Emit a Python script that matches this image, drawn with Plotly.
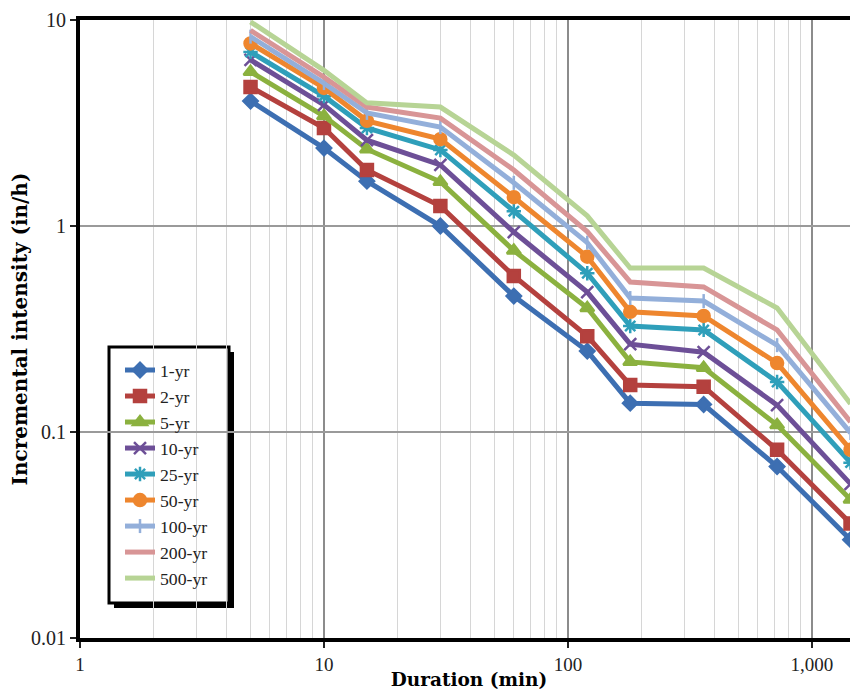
import plotly.graph_objects as go
import math

durations = [5, 10, 15, 30, 60, 120, 180, 360, 720, 1440]
series_names = ["1-yr", "2-yr", "5-yr", "10-yr", "25-yr", "50-yr", "100-yr", "200-yr", "500-yr"]
yr1 = [4.04, 2.39, 1.65, 1.00, 0.457, 0.247, 0.138, 0.136, 0.068, 0.030]
yr2 = [4.73, 2.99, 1.87, 1.25, 0.572, 0.292, 0.169, 0.166, 0.082, 0.036]
yr5 = [5.6, 3.42, 2.36, 1.64, 0.76, 0.40, 0.219, 0.205, 0.108, 0.047]
yr10 = [6.4, 3.87, 2.61, 1.98, 0.935, 0.478, 0.267, 0.244, 0.135, 0.056]
yr25 = [7.0, 4.27, 2.99, 2.34, 1.18, 0.59, 0.327, 0.313, 0.175, 0.071]
yr50 = [7.7, 4.68, 3.24, 2.64, 1.38, 0.71, 0.383, 0.366, 0.216, 0.082]
yr100 = [8.3, 4.94, 3.54, 3.02, 1.62, 0.83, 0.447, 0.432, 0.264, 0.099]
yr200 = [8.9, 5.28, 3.78, 3.34, 1.87, 0.94, 0.535, 0.506, 0.313, 0.112]
yr500 = [9.8, 5.7, 3.96, 3.78, 2.21, 1.12, 0.625, 0.625, 0.40, 0.137]
all_series = [yr1, yr2, yr5, yr10, yr25, yr50, yr100, yr200, yr500]

colors = ["#3D6FB2", "#B4413E", "#8BB13F", "#6D4F97", "#2F9FBA", "#EE862E", "#93AFDA", "#D89596", "#B7D495"]
symbols = ["diamond", "square", "triangle-up", "x-thin-open", "asterisk-open", "circle", "line-ns-open", None, None]
msizes = [11, 12, 12, 12, 12, 12, 10, 0, 0]

x_ticks = [1, 10, 100, 1000]
x_ticklabels = ["1", "10", "100", "1,000"]
x_minor = [m * d for d in (1, 10, 100) for m in range(2, 10)]
y_ticks = [0.01, 0.1, 1, 10]
y_ticklabels = ["0.01", "0.1", "1", "10"]

fig = go.Figure()
for name, vals, c, s, ms in zip(series_names, all_series, colors, symbols, msizes):
    if s is None:
        mode = "lines"
        marker = None
    else:
        mode = "lines+markers"
        marker = dict(symbol=s, size=ms, color=c, line=dict(color=c, width=2.5))
    fig.add_trace(go.Scatter(x=durations, y=vals, name=name, mode=mode,
                             line=dict(color=c, width=5), marker=marker))

serif = "Liberation Serif"
bold = "DejaVu Serif"
# the page adds an 8px body margin; figure sized to fit the 858x693 window
OFF = 8
W, H = 850, 685
L, T, B, R = 72, 12, 55, 0
pw, ph = W - L - R, H - T - B

def px_x(p):  # page pixel -> paper x
    return (p - OFF - L) / pw

def px_y(p):  # page pixel -> paper y
    return (H - B - (p - OFF)) / ph

fig.update_layout(
    width=W, height=H,
    margin=dict(l=L, r=R, t=T, b=B),
    paper_bgcolor="white", plot_bgcolor="white",
    font=dict(family=serif, color="black", size=20),
    legend=dict(x=px_x(120), y=px_y(352), xanchor="left", yanchor="top",
                bgcolor="rgba(0,0,0,0)", borderwidth=0,
                font=dict(family=serif, size=17.7, color="#222"), tracegroupgap=0,
                itemwidth=30),
    xaxis=dict(type="log", range=[0, math.log10(1545)], automargin=False,
               tickvals=x_ticks, ticktext=x_ticklabels,
               showgrid=True, gridcolor="#8c8c8c", gridwidth=1.5,
               minor=dict(tickvals=x_minor, showgrid=True, gridcolor="#d6d6d6", gridwidth=1, ticks=""),
               showline=True, linecolor="black", linewidth=4, mirror=True,
               ticks="outside", ticklen=6, tickcolor="#222", tickwidth=2,
               tickfont=dict(color="#222", size=19),
               title=dict(text="<b>Duration (min)</b>", font=dict(family=bold, size=18.5), standoff=0),
               zeroline=False),
    yaxis=dict(type="log", range=[-2, 1], automargin=False,
               tickvals=y_ticks, ticktext=y_ticklabels,
               showgrid=True, gridcolor="#9a9a9a", gridwidth=1.5,
               showline=True, linecolor="black", linewidth=4,
               ticks="outside", ticklen=6, tickcolor="#222", tickwidth=2,
               tickfont=dict(color="#222"),
               title=dict(text="<b>Incremental intensity (in/h)</b>", font=dict(family=bold, size=20), standoff=3),
               zeroline=False),
)
# legend shadow and box
fig.add_shape(type="rect", xref="paper", yref="paper",
              x0=px_x(114), x1=px_x(234), y0=px_y(608), y1=px_y(352),
              fillcolor="black", line=dict(width=0), layer="below")
fig.add_shape(type="rect", xref="paper", yref="paper",
              x0=px_x(109), x1=px_x(229), y0=px_y(603), y1=px_y(347),
              fillcolor="white", line=dict(color="black", width=3), layer="below")

fig.write_html("out.html")
